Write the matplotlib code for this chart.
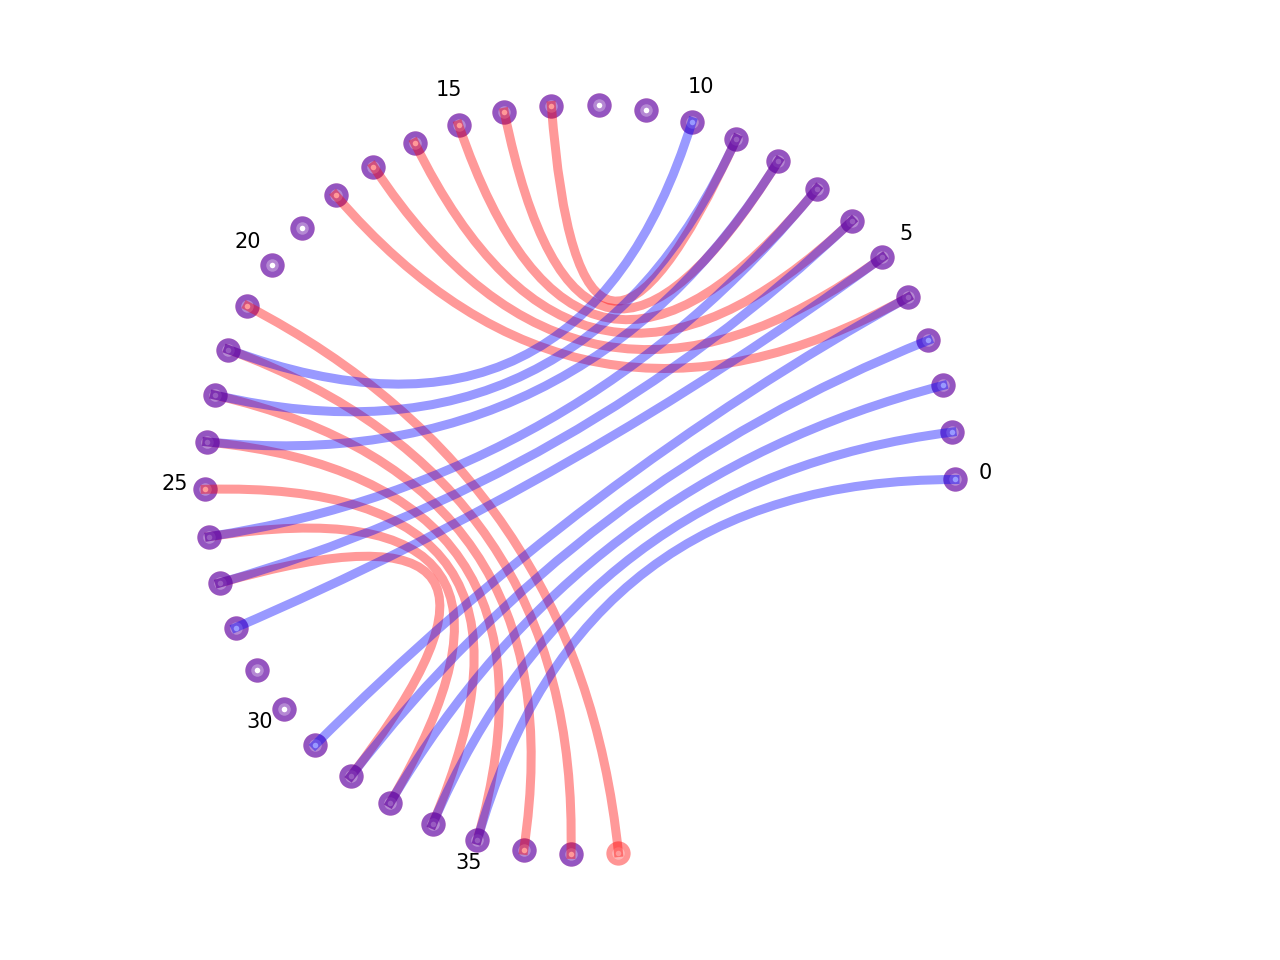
import numpy as np
import matplotlib
matplotlib.use("Agg")
import matplotlib.pyplot as plt
from matplotlib.path import Path
from matplotlib.patches import PathPatch

# ---- data ----
n_red_nodes = 39
n_blue_nodes = 38
step_deg = 7.26          # angular spacing between nodes

red_src = [4, 5, 6, 7, 8, 9, 21, 22, 23, 24, 25, 26, 27]
red_dst = [18, 17, 16, 15, 14, 13, 38, 37, 36, 35, 34, 33, 32]

blue_src = [0, 1, 2, 3, 4, 5, 6, 7, 8, 9, 10]
blue_dst = [35, 34, 33, 32, 31, 28, 27, 26, 24, 23, 22]

label_nodes = [0, 5, 10, 15, 20, 25, 30, 35]

RED = '#ff0000'
BLUE = '#0000ff'


def node_xy(i):
    a = np.deg2rad(i * step_deg)
    return np.cos(a), np.sin(a)


fig = plt.figure(figsize=(12.8, 9.6), dpi=100)
ax = fig.add_axes([0, 0, 1, 1])
ax.set_xlim(-580 / 375, 700 / 375)
ax.set_ylim(-480.5 / 375, 479.5 / 375)
ax.axis('off')

# nodes: red layer, blue layer, light inner disc, white dot
for n, col in ((n_red_nodes, RED), (n_blue_nodes, BLUE)):
    xs, ys = zip(*[node_xy(i) for i in range(n)])
    ax.plot(xs, ys, 'o', ms=17.5, mew=0, color=col, alpha=0.42, zorder=1)

xs, ys = zip(*[node_xy(i) for i in range(n_red_nodes)])
ax.plot(xs, ys, 'o', ms=9, mew=0, color='white', alpha=0.3, zorder=2)
ax.plot(xs, ys, 'o', ms=4, mew=0, color='white', zorder=3)


def draw_edges(src, dst, col):
    for a, b in zip(src, dst):
        p0 = node_xy(a)
        p1 = node_xy(b)
        path = Path([p0, (0, 0), p1], [Path.MOVETO, Path.CURVE3, Path.CURVE3])
        ax.add_patch(PathPatch(path, facecolor='none', edgecolor=col, lw=6.5,
                               alpha=0.4, capstyle='projecting', zorder=4))


draw_edges(red_src, red_dst, RED)
draw_edges(blue_src, blue_dst, BLUE)

for i in label_nodes:
    x, y = node_xy(i)
    ax.text(1.08 * x, 1.08 * y, str(i), ha='center', va='baseline', fontsize=15)

fig.savefig('out.png', dpi=100, facecolor='white')
